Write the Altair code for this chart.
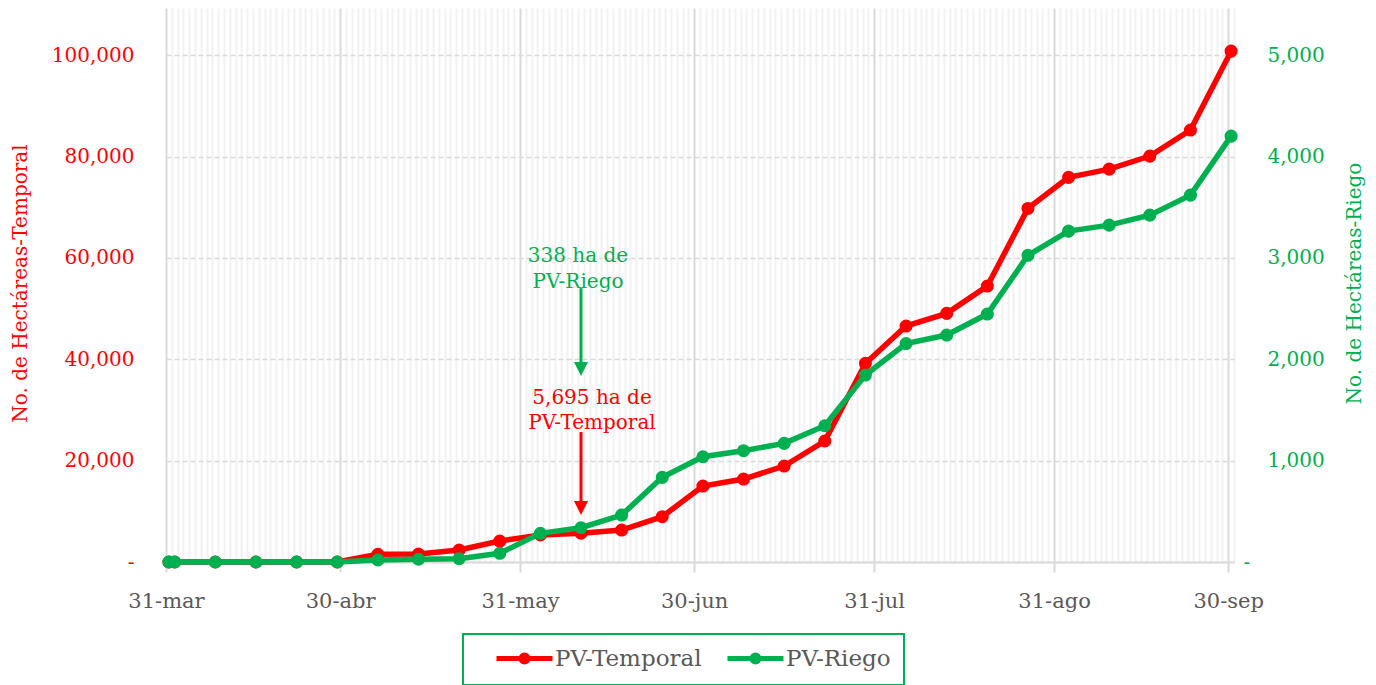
import altair as alt
import pandas as pd

# ---------------- data ----------------
dates = ["2020-03-31", "2020-04-01", "2020-04-08", "2020-04-15", "2020-04-22", "2020-04-29",
         "2020-05-06", "2020-05-13", "2020-05-20", "2020-05-27",
         "2020-06-03", "2020-06-10", "2020-06-17", "2020-06-24",
         "2020-07-01", "2020-07-08", "2020-07-15", "2020-07-22", "2020-07-29",
         "2020-08-05", "2020-08-12", "2020-08-19", "2020-08-26",
         "2020-09-02", "2020-09-09", "2020-09-16", "2020-09-23", "2020-09-30"]
temporal = [0, 0, 0, 0, 0, 0,
            1520, 1580, 2370, 4140,
            5330, 5695, 6310, 8940,
            14990, 16370, 18930, 23870, 39190,
            46550, 49050, 54440, 69760,
            75880, 77510, 80080, 85210, 100790]
riego = [0, 0, 0, 0, 0, 0,
         20, 27, 33, 86,
         283, 338, 463, 835,
         1038, 1098, 1170, 1344, 1844,
         2155, 2239, 2446, 3025,
         3264, 3323, 3422, 3619, 4201]
series_names = ["PV-Temporal", "PV-Riego"]
x_tick_dates = ["2020-03-31", "2020-04-30", "2020-05-31", "2020-06-30",
                "2020-07-31", "2020-08-31", "2020-09-30"]
month_abbr = ["ene", "feb", "mar", "abr", "may", "jun", "jul", "ago", "sep", "oct", "nov", "dic"]
y_left_ticks = [0, 20000, 40000, 60000, 80000, 100000]
y_right_ticks = [0, 1000, 2000, 3000, 4000, 5000]

ann_date = "2020-06-10"
ann_red_text = ["5,695 ha de", "PV-Temporal"]
ann_red_text_y = [32350, 27420]
ann_red_arrow_y = [25640, 10650]     # shaft top, arrow head
ann_green_text = ["338 ha de", "PV-Riego"]
ann_green_text_y = [3018, 2761]
ann_green_arrow_y = [2702, 1903]     # shaft top, arrow head

RED = "#ff0000"
GREEN = "#00b050"
GREY = "#595959"
FONT = "DejaVu Serif"
FS = 20


def dt(s):
    t = pd.Timestamp(s)
    return alt.DateTime(year=t.year, month=t.month, date=t.day)


df = pd.DataFrame({"fecha": pd.to_datetime(dates), "temporal": temporal, "riego": riego})
df_t = df.assign(serie=series_names[0])
df_r = df.assign(serie=series_names[1])

major_vals = [dt(s) for s in x_tick_dates]
month_ends = set(pd.to_datetime(x_tick_dates))
minor_vals = [dt(d) for d in pd.date_range("2020-04-01", "2020-10-01") if d not in month_ends]

xscale = alt.Scale(domain=[dt("2020-03-31"), dt("2020-10-01")])
label_expr = "date(datum.value) + '-' + " + str(month_abbr) + "[month(datum.value)]"

x_major = alt.X("fecha:T", timeUnit="yearmonthdate", bandPosition=0.5, scale=xscale, title=None,
                axis=alt.Axis(values=major_vals, labelExpr=label_expr, orient="bottom",
                              grid=True, gridColor="#d9d9d9", gridWidth=2,
                              domainColor="#d9d9d9", domainWidth=2,
                              tickColor="#d9d9d9", tickSize=10, tickWidth=2,
                              labelFont=FONT, labelFontSize=21, labelColor=GREY,
                              labelPadding=18, labelOverlap=False, labelFlush=False))
x_minor = alt.X("fecha:T", timeUnit="yearmonthdate", bandPosition=0.5, scale=xscale, title=None,
                axis=alt.Axis(values=minor_vals, orient="top", labels=False, ticks=False,
                              domain=False, grid=True, gridColor="#f2f2f2", gridWidth=2))

yLscale = alt.Scale(domain=[0, 109300], nice=False)
yRscale = alt.Scale(domain=[0, 5465], nice=False)

axL = alt.Axis(values=y_left_ticks, title="No. de Hectáreas-Temporal", titleColor=RED,
               titleFont=FONT, titleFontSize=FS, titleFontWeight="normal", titleAngle=270,
               titleX=-146, titleY=275, titleBaseline="middle", titleAlign="center",
               labelColor=RED, labelFont=FONT, labelFontSize=FS, labelPadding=32,
               labelExpr="datum.value == 0 ? '-' : format(datum.value, ',')",
               ticks=False, domain=False, grid=True, gridColor="#d9d9d9",
               gridDash=[5, 3], gridWidth=1.5)
axR = alt.Axis(orient="right", values=y_right_ticks, title="No. de Hectáreas-Riego",
               titleColor=GREEN, titleFont=FONT, titleFontSize=FS, titleFontWeight="normal",
               titleAngle=270, titleX=120, titleY=275, titleBaseline="middle",
               titleAlign="center", labelColor=GREEN, labelFont=FONT, labelFontSize=FS,
               labelAlign="left",
               labelPadding={"condition": {"test": "datum.value == 0", "value": 9}, "value": 33},
               labelExpr="datum.value == 0 ? '-' : format(datum.value, ',')",
               ticks=False, domain=False, grid=False)

legend_path = ("M-4.667,0L4.667,0"
               "M0.583,0A0.583,0.583,0,1,1,-0.583,0A0.583,0.583,0,1,1,0.583,0"
               "M0.25,0A0.25,0.25,0,1,1,-0.25,0A0.25,0.25,0,1,1,0.25,0")
legend = alt.Legend(title=None, orient="none", legendX=297, legendY=626,
                    direction="horizontal", symbolType=legend_path, symbolSize=144,
                    symbolStrokeWidth=5, symbolOffset=37, labelOffset=19, columnPadding=5,
                    labelFont=FONT, labelFontSize=23, labelColor=GREY,
                    strokeColor=GREEN, padding=13)
color = alt.Color("serie:N", scale=alt.Scale(domain=series_names, range=[RED, GREEN]), legend=legend)

# ---------------- left (temporal) ----------------
yL = alt.Y("temporal:Q", scale=yLscale, axis=axL)
red_line = alt.Chart(df_t).mark_line(strokeWidth=5.5).encode(x=x_major, y=yL, color=color)
red_pts = alt.Chart(df_t).mark_point(filled=True, size=170, opacity=1).encode(
    x=x_major, y=yL, color=color)

df_rt = pd.DataFrame({"fecha": pd.to_datetime([ann_date] * 2), "v": ann_red_text_y, "t": ann_red_text})
red_txt = alt.Chart(df_rt).mark_text(font=FONT, fontSize=FS, color=RED, baseline="middle", dx=11).encode(
    x=x_major, y=alt.Y("v:Q", scale=yLscale, axis=axL), text="t:N")
df_ra = pd.DataFrame({"fecha": pd.to_datetime([ann_date]), "v1": [ann_red_arrow_y[0]], "v2": [ann_red_arrow_y[1]]})
red_shaft = alt.Chart(df_ra).mark_rule(color=RED, strokeWidth=3).encode(
    x=x_major, y=alt.Y("v1:Q", scale=yLscale, axis=axL), y2="v2:Q")
red_head = alt.Chart(df_ra).mark_point(shape="M-1,-1L1,-1L0,1Z", filled=True, size=196,
                                       color=RED, opacity=1).encode(
    x=x_major, y=alt.Y("v2:Q", scale=yLscale, axis=axL))

left = alt.layer(red_line, red_pts, red_txt, red_shaft, red_head)

# ---------------- right (riego) ----------------
yR = alt.Y("riego:Q", scale=yRscale, axis=axR)
green_line = alt.Chart(df_r).mark_line(strokeWidth=5.5).encode(x=x_minor, y=yR, color=color)
green_pts = alt.Chart(df_r).mark_point(filled=True, size=170, opacity=1).encode(
    x=x_minor, y=yR, color=color)

df_gt = pd.DataFrame({"fecha": pd.to_datetime([ann_date] * 2), "v": ann_green_text_y, "t": ann_green_text})
green_txt = alt.Chart(df_gt).mark_text(font=FONT, fontSize=FS, color=GREEN, baseline="middle", dx=-3).encode(
    x=x_minor, y=alt.Y("v:Q", scale=yRscale, axis=axR), text="t:N")
df_ga = pd.DataFrame({"fecha": pd.to_datetime([ann_date]), "v1": [ann_green_arrow_y[0]], "v2": [ann_green_arrow_y[1]]})
green_shaft = alt.Chart(df_ga).mark_rule(color=GREEN, strokeWidth=3).encode(
    x=x_minor, y=alt.Y("v1:Q", scale=yRscale, axis=axR), y2="v2:Q")
green_head = alt.Chart(df_ga).mark_point(shape="M-1,-1L1,-1L0,1Z", filled=True, size=196,
                                         color=GREEN, opacity=1).encode(
    x=x_minor, y=alt.Y("v2:Q", scale=yRscale, axis=axR))

right = alt.layer(green_line, green_pts, green_txt, green_shaft, green_head)

chart = (alt.layer(left, right)
         .resolve_scale(y="independent")
         .resolve_axis(x="independent", y="independent")
         .properties(width=1068, height=554,
                     padding={"left": 2, "top": 0, "right": 2, "bottom": 0})
         .configure_view(stroke=None)
         .configure_legend(strokeWidth=2))

chart.save("out.html", embed_options={"renderer": "svg", "actions": False})
